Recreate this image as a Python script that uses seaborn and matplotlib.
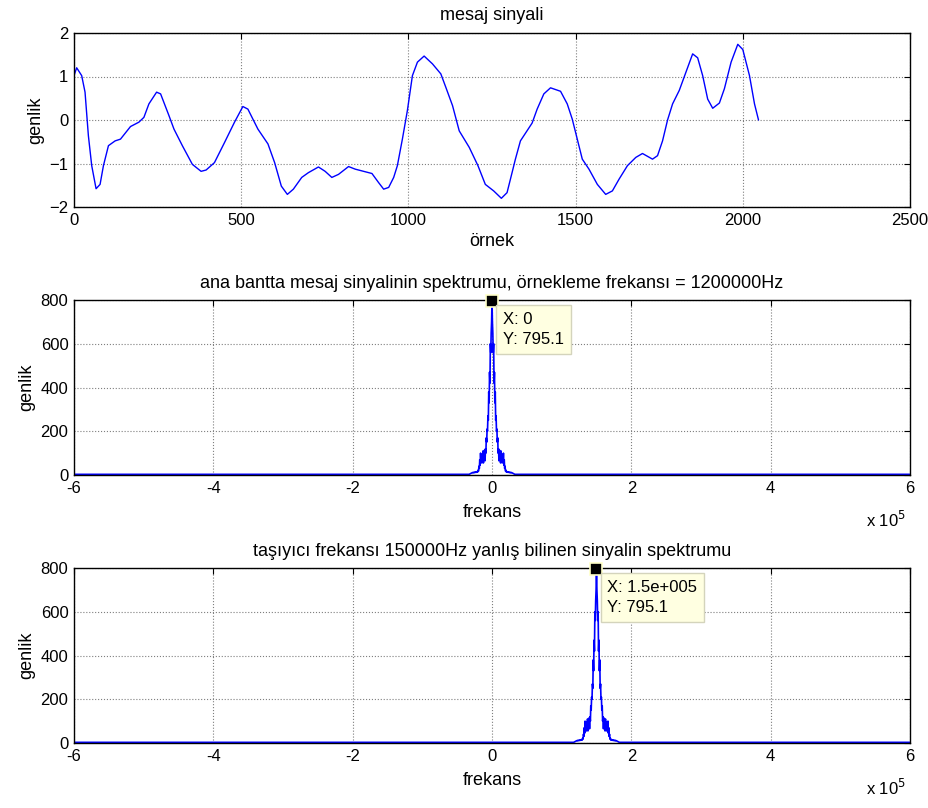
import numpy as np
import pandas as pd
import seaborn as sns
import matplotlib
matplotlib.use("Agg")
import matplotlib.pyplot as plt

# message signal (sample index, amplitude)
samples = [0, 8, 23, 33, 43, 53, 66, 78, 88, 103,
           123, 139, 169, 194, 209, 224, 247, 259, 284, 299,
           324, 354, 380, 395, 420, 450, 480, 505, 520, 550,
           580, 600, 620, 638, 656, 681, 701, 731, 751, 771,
           791, 801, 821, 841, 866, 891, 911, 926, 941, 956,
           967, 982, 997, 1012, 1027, 1047, 1072, 1097, 1112, 1132,
           1152, 1182, 1208, 1230, 1255, 1278, 1295, 1310, 1320, 1335,
           1370, 1385, 1405, 1425, 1455, 1475, 1490, 1505, 1520, 1540,
           1565, 1590, 1610, 1630, 1655, 1680, 1700, 1730, 1745, 1760,
           1775, 1790, 1810, 1830, 1850, 1865, 1880, 1895, 1910, 1930,
           1945, 1965, 1985, 2000, 2020, 2035, 2047]
message = [1.02, 1.2, 1.02, 0.64, -0.36, -1.05, -1.58, -1.48, -1.05, -0.59,
           -0.48, -0.44, -0.15, -0.05, 0.06, 0.37, 0.64, 0.6, 0.1, -0.21,
           -0.59, -1.02, -1.18, -1.15, -0.98, -0.52, -0.05, 0.31, 0.25, -0.21,
           -0.55, -0.98, -1.52, -1.71, -1.59, -1.32, -1.21, -1.08, -1.18, -1.32,
           -1.25, -1.19, -1.07, -1.13, -1.18, -1.23, -1.44, -1.59, -1.55, -1.32,
           -1.05, -0.44, 0.22, 1.02, 1.33, 1.47, 1.29, 1.06, 0.75, 0.33,
           -0.25, -0.63, -1.05, -1.48, -1.63, -1.8, -1.67, -1.21, -0.9, -0.48,
           -0.07, 0.25, 0.6, 0.74, 0.66, 0.37, 0.02, -0.44, -0.9, -1.13,
           -1.48, -1.71, -1.63, -1.36, -1.05, -0.86, -0.77, -0.9, -0.82, -0.48,
           0.0, 0.37, 0.68, 1.1, 1.52, 1.43, 1.02, 0.48, 0.27, 0.39,
           0.72, 1.33, 1.74, 1.62, 1.02, 0.37, 0.0]

# spectrum: fs = 1.2 MHz, 2048 points
fs = 1200000
nfft = 2048
baseline = 3
# magnitude at bin offsets 0, 1, 2, ... from the peak (one side)
peak_amp = [795.1, 700, 650, 560, 600, 420, 470, 330, 380, 250,
            270, 200, 210, 150, 170, 100, 120, 65, 115, 70,
            105, 55, 110, 60, 95, 55, 85, 60, 100, 45,
            70, 30, 40, 18, 22, 14, 16, 13, 15, 12,
            14, 12, 13, 11, 12, 11, 12, 10, 11, 10,
            9, 8, 7, 6, 5, 4, 3]
centers = [0, 150000]
titles = ['ana bantta mesaj sinyalinin spektrumu, örnekleme frekansı = 1200000Hz',
          'taşıyıcı frekansı 150000Hz yanlış bilinen sinyalin spektrumu']
tips = ['X: 0\nY: 795.1', 'X: 1.5e+005\nY: 795.1']


def spectrum_frame(center):
    bin_hz = fs / nfft
    amp = peak_amp[::-1] + peak_amp[1:]
    n = len(peak_amp)
    f = center + np.arange(-n + 1, n) * bin_hz
    f = np.concatenate([[-fs / 2], f, [fs / 2 - bin_hz]])
    a = np.concatenate([[baseline], amp, [baseline]])
    return pd.DataFrame({'f': f, 'a': a})


sns.set_theme(style="white")
plt.rcParams['font.family'] = ['Liberation Sans', 'DejaVu Sans']
plt.rcParams['font.size'] = 12
plt.rcParams['text.color'] = 'black'
plt.rcParams['axes.labelcolor'] = 'black'
plt.rcParams['axes.titlecolor'] = 'black'

TICK = 12
TXT = 13

fig = plt.figure(figsize=(9.29, 8.08), dpi=100)
W, H = 929, 808
boxes = [(74, 33, 207), (74, 300, 475), (74, 568, 743)]
axes = [fig.add_axes([l / W, 1 - b / H, 836 / W, (b - t) / H]) for l, t, b in boxes]


def style(ax):
    ax.grid(True, color='#7f7f7f', linestyle=':', linewidth=0.8)
    ax.tick_params(direction='in', length=4, width=0.8, top=True, right=True,
                   labelsize=TICK, pad=4, colors='black')
    for s in ax.spines.values():
        s.set_visible(True)
        s.set_color('black')
        s.set_linewidth(1.0)


# top: message signal
ax = axes[0]
sns.lineplot(x=samples, y=message, ax=ax, color='blue', linewidth=1.0, sort=False)
ax.set_xlim(0, 2500)
ax.set_ylim(-2, 2)
ax.set_xticks(range(0, 2501, 500))
ax.set_yticks([-2, -1, 0, 1, 2])
ax.set_title('mesaj sinyali', fontsize=TXT, pad=9)
ax.set_xlabel('örnek', fontsize=TXT, labelpad=4)
ax.set_ylabel('genlik', fontsize=TXT, labelpad=4)
style(ax)

# spectra
for ax, c, title, tip in zip(axes[1:], centers, titles, tips):
    df = spectrum_frame(c)
    sns.lineplot(data=df, x='f', y='a', ax=ax, color='blue', linewidth=1.2,
                 sort=False, estimator=None)
    ax.set_xlim(-600000, 600000)
    ax.set_ylim(0, 800)
    ticks = np.arange(-600000, 600001, 200000)
    ax.set_xticks(ticks)
    ax.set_xticklabels([str(int(t / 1e5)) for t in ticks])
    ax.set_yticks([0, 200, 400, 600, 800])
    ax.set_title(title, fontsize=TXT, pad=9)
    ax.set_xlabel('frekans', fontsize=TXT, labelpad=6)
    ax.set_ylabel('genlik', fontsize=TXT, labelpad=4)
    style(ax)
    ax.text(0.995, -0.255, r'x 10$^5$', transform=ax.transAxes, ha='right',
            va='center', fontsize=TICK)
    ax.plot([c], [peak_amp[0]], marker='s', markersize=8, color='black',
            markeredgecolor='#ffffc8', markeredgewidth=1.2, clip_on=False, zorder=5)
    ax.annotate(tip, xy=(c, peak_amp[0]), xytext=(11, -11), textcoords='offset pixels',
                ha='left', va='top', fontsize=TICK, linespacing=1.45, zorder=6,
                bbox=dict(boxstyle='square,pad=0.4', fc='#ffffe1', ec='#d4d4bc', lw=1))

fig.savefig('out.png', dpi=100)
